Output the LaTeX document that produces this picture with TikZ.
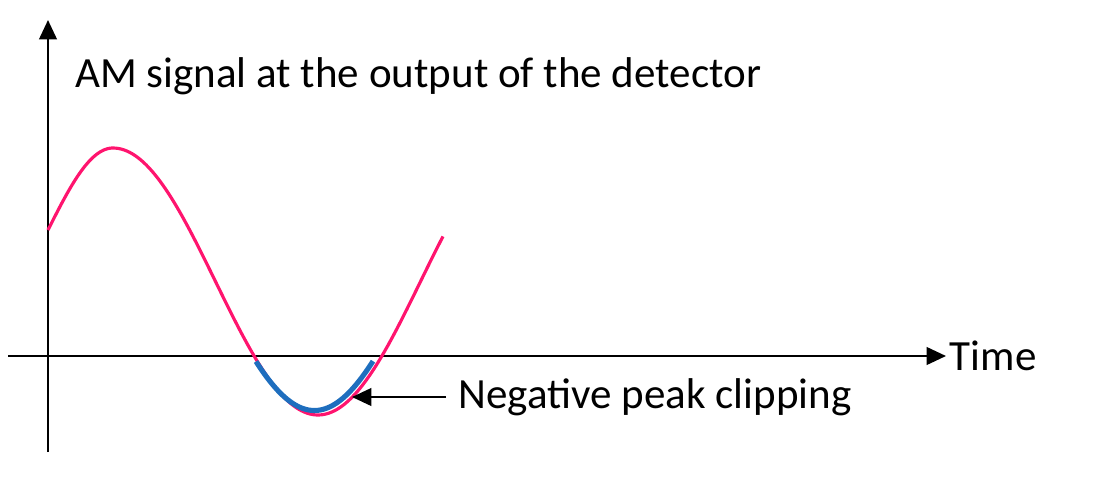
\documentclass[tikz,border=0pt]{standalone}
\usepackage{fontspec}
\setmainfont{Carlito}
\usetikzlibrary{arrows.meta,positioning}
\definecolor{sigpink}{RGB}{255,20,110}
\definecolor{clipblue}{RGB}{30,110,190}

\begin{document}
\begin{tikzpicture}[x=0.02cm,y=-0.02cm,
      every node/.style={font=\fontsize{24.5}{29}\selectfont, inner sep=0pt},
      axis/.style={line width=1.3pt, -{Triangle[length=11pt,width=10pt]}},
      pointer/.style={line width=1.3pt, -{Triangle[length=11pt,width=10pt]}},
      signal/.style={sigpink, line width=1.8pt},
      clipped/.style={clipblue, line width=2.9pt},
      note/.style={anchor=west, inner xsep=7pt}
    ]
    \useasboundingbox (0,0) rectangle (1112,484);

    \coordinate (ybot) at (48,452);
    \coordinate (ytop) at (48,20);
    \coordinate (xleft) at (8,356);
    \coordinate (xright) at (946,356);
    \draw[axis] (ybot) -- (ytop);
    \draw[axis] (xleft) -- (xright);

    \node[anchor=base west] (title) at (75,87) {AM signal at the output of the detector};
    \node[note, inner xsep=2pt] (time) at (xright) {Time};

    \draw[signal] plot[domain=48:113, samples=40] (\x, {148 + 82*(1-cos(90*(113-\x)/65))})
      -- plot[domain=113:443, samples=120] (\x, {281.5 - 133.5*cos((\x-113)*0.878)});
    \draw[clipped] plot[domain=256:373, samples=60] (\x, {281.5 - 129*cos((\x-111)*0.885)});

    \coordinate (clip) at (352,397);
    \node[note] (label) at (446,397) {Negative peak clipping};
    \draw[pointer] (label.west) -- (clip);
\end{tikzpicture}
\end{document}
